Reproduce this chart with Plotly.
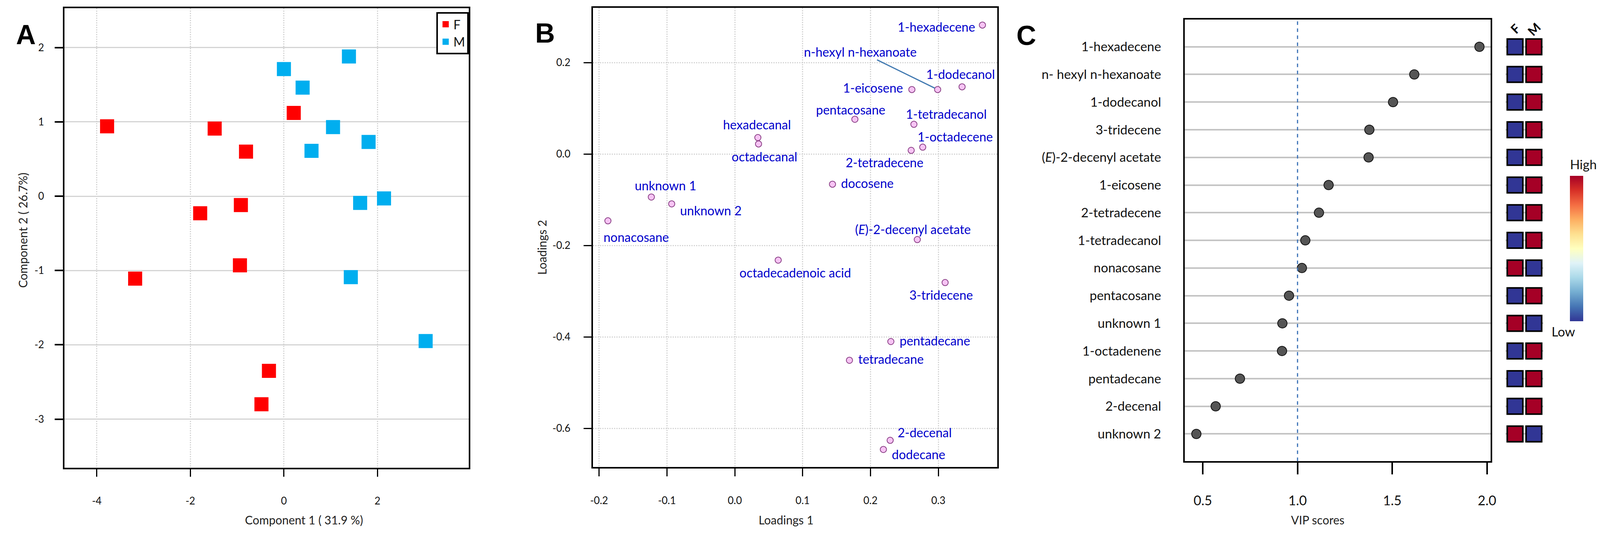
import plotly.graph_objects as go

# ---- panel A: PLS-DA scores ----
f_x = [-3.78, -1.48, -0.81, 0.21, -1.79, -0.92, -3.18, -0.94, -0.32, -0.48]
f_y = [0.94, 0.91, 0.60, 1.12, -0.23, -0.12, -1.11, -0.93, -2.35, -2.80]
m_x = [0.00, 1.39, 0.40, 1.05, 1.81, 0.59, 1.63, 2.14, 1.43, 3.03]
m_y = [1.71, 1.88, 1.46, 0.93, 0.73, 0.61, -0.09, -0.03, -1.09, -1.95]
a_xticks = [-4, -2, 0, 2]
a_yticks = [-3, -2, -1, 0, 1, 2]

# ---- panel B: loadings ----
b_names = ["1-hexadecene", "n-hexyl n-hexanoate", "1-dodecanol", "1-eicosene",
           "pentacosane", "1-tetradecanol", "1-octadecene", "2-tetradecene",
           "hexadecanal", "octadecanal", "docosene", "unknown 1", "unknown 2",
           "nonacosane", "(<i>E</i>)-2-decenyl acetate", "octadecadenoic acid",
           "3-tridecene", "pentadecane", "tetradecane", "2-decenal", "dodecane"]
load1 = [0.365, 0.299, 0.335, 0.261, 0.177, 0.264, 0.277, 0.260, 0.034, 0.035,
         0.144, -0.123, -0.093, -0.187, 0.269, 0.064, 0.310, 0.230, 0.169,
         0.229, 0.219]
load2 = [0.282, 0.141, 0.147, 0.141, 0.076, 0.065, 0.015, 0.008, 0.036, 0.022,
         -0.066, -0.094, -0.109, -0.146, -0.187, -0.232, -0.281, -0.410,
         -0.451, -0.626, -0.646]
b_xticks = [-0.2, -0.1, 0.0, 0.1, 0.2, 0.3]
b_yticks = [-0.6, -0.4, -0.2, 0.0, 0.2]

# ---- panel C: VIP scores + group levels ----
c_names = ["1-hexadecene", "n- hexyl n-hexanoate", "1-dodecanol", "3-tridecene",
           "(<i>E</i>)-2-decenyl acetate", "1-eicosene", "2-tetradecene",
           "1-tetradecanol", "nonacosane", "pentacosane", "unknown 1",
           "1-octadenene", "pentadecane", "2-decenal", "unknown 2"]
vip = [1.96, 1.616, 1.504, 1.379, 1.375, 1.164, 1.113, 1.041, 1.023, 0.955,
       0.92, 0.918, 0.696, 0.568, 0.466]
level_f = [0, 0, 0, 0, 0, 0, 0, 0, 1, 0, 1, 0, 0, 0, 1]
level_m = [1, 1, 1, 1, 1, 1, 1, 1, 0, 1, 0, 1, 1, 1, 0]
c_xticks = [0.5, 1.0, 1.5, 2.0]

# layout measured on a 4667 x 1387 canvas, converted to paper fractions
W, H = 4667, 1387
FONT = "Lato"
LABEL_BLUE = "#0000cc"
B_PX_PER_UNIT = 2001.0   # panel B x scale on the reference canvas


def px_x(p):
    return p / W


def px_y(p):
    return 1 - p / H


def hyphen_labels(vals, fmt):
    # keep a plain hyphen for negatives, like the original figure
    return [fmt.format(v).replace("\u2212", "-") for v in vals]


# label placement for panel B: (xanchor, x offset px, y offset px up)
b_offsets = {
    "1-hexadecene": ("right", -20, -4),
    "1-dodecanol": ("center", -4, 33),
    "1-eicosene": ("right", -24, 5),
    "pentacosane": ("center", -12, 25),
    "1-tetradecanol": ("left", -26, 27),
    "1-octadecene": ("left", -18, 27),
    "2-tetradecene": ("center", -78, -31),
    "hexadecanal": ("center", -2, 34),
    "octadecanal": ("center", 18, -32),
    "docosene": ("left", 23, 3),
    "unknown 1": ("center", 42, 30),
    "unknown 2": ("left", 22, -17),
    "nonacosane": ("left", -15, -41),
    "(<i>E</i>)-2-decenyl acetate": ("center", -13, 27),
    "octadecadenoic acid": ("center", 51, -32),
    "3-tridecene": ("center", -11, -31),
    "pentadecane": ("left", 24, 3),
    "tetradecane": ("left", 23, 3),
    "2-decenal": ("left", 20, 20),
    "dodecane": ("left", 22, -12),
}

rdylbu_r = ["#313695", "#4575b4", "#74add1", "#abd9e9", "#e0f3f8", "#ffffbf",
            "#fee090", "#fdae61", "#f46d43", "#d73027", "#a50026"]
colorscale = [[i / (len(rdylbu_r) - 1), c] for i, c in enumerate(rdylbu_r)]

fig = go.Figure()

fig.add_trace(go.Scatter(x=f_x, y=f_y, mode="markers", name="F",
                         marker=dict(symbol="square", size=36, color="#ff0000"),
                         xaxis="x", yaxis="y"))
fig.add_trace(go.Scatter(x=m_x, y=m_y, mode="markers", name="M",
                         marker=dict(symbol="square", size=36, color="#00aeef"),
                         xaxis="x", yaxis="y"))

fig.add_trace(go.Scatter(x=load1, y=load2, mode="markers", showlegend=False,
                         marker=dict(size=16, color="#f7c4f4",
                                     line=dict(color="#8a3f86", width=2)),
                         xaxis="x2", yaxis="y2"))

fig.add_trace(go.Scatter(x=vip, y=c_names, mode="markers", showlegend=False,
                         marker=dict(size=24, color="#555555",
                                     line=dict(color="#111111", width=2)),
                         xaxis="x3", yaxis="y3"))

fig.add_trace(go.Scatter(
    x=["F"] * len(c_names) + ["M"] * len(c_names),
    y=c_names + c_names,
    mode="markers", showlegend=False,
    marker=dict(symbol="square", size=40, color=level_f + level_m,
                cmin=0, cmax=1, colorscale=colorscale,
                line=dict(color="#000000", width=4),
                showscale=True,
                colorbar=dict(x=px_x(4613), xanchor="left", xpad=0, ypad=0,
                              y=px_y(613), yanchor="middle",
                              len=417, lenmode="pixels", thickness=34,
                              outlinewidth=0, ticks="", showticklabels=False,
                              title=dict(text="High", side="top",
                                         font=dict(size=33, color="#111")))),
    xaxis="x4", yaxis="y3"))

frame = dict(showline=True, linecolor="#000000", linewidth=4, mirror=True,
             zeroline=False, ticks="outside", tickcolor="#000000",
             tickfont=dict(family=FONT, size=26, color="#111111"))

annotations = []
for name, x, y in zip(b_names, load1, load2):
    if name == "n-hexyl n-hexanoate":
        annotations.append(dict(x=x, y=y, xref="x2", yref="y2", text=name,
                                showarrow=True, axref="x2", ax=0.185,
                                ayref="pixel", ay=-97, arrowhead=0,
                                arrowwidth=3, arrowcolor="#3f78b0", standoff=8,
                                font=dict(family=FONT, size=32, color=LABEL_BLUE)))
        continue
    anchor, dx, dy = b_offsets[name]
    annotations.append(dict(x=x + dx / B_PX_PER_UNIT, y=y, xref="x2", yref="y2",
                            text=name, showarrow=False, xanchor=anchor, yshift=dy,
                            font=dict(family=FONT, size=32, color=LABEL_BLUE)))

title_font = dict(family=FONT, size=30, color="#222222")
annotations += [
    dict(x=px_x(703), y=px_y(1358), text="Component 1 ( 31.9 %)", font=title_font),
    dict(x=px_x(27), y=px_y(588), text="Component 2 ( 26.7%)", textangle=-90,
         font=title_font),
    dict(x=px_x(2301), y=px_y(1358), text="Loadings 1", font=title_font),
    dict(x=px_x(1580), y=px_y(632), text="Loadings 2", textangle=-90,
         font=title_font),
    dict(x=px_x(3950), y=px_y(1358), text="VIP scores", font=title_font),
    dict(x=px_x(4630), y=px_y(850), text="Low",
         font=dict(family=FONT, size=33, color="#111111")),
]
for letter, lx, ly in [("A", 28, 40), ("B", 1590, 36), ("C", 3010, 42)]:
    annotations.append(dict(x=px_x(lx), y=px_y(ly), text="<b>%s</b>" % letter,
                            font=dict(family="Liberation Sans", size=70,
                                      color="#000000")))
for col, cy in [("F", 43), ("M", 40)]:
    annotations.append(dict(x=col, y=px_y(cy), xref="x4", yref="paper",
                            text="<b>%s</b>" % col, textangle=-45,
                            font=dict(family=FONT, size=32, color="#000000")))
for a in annotations:
    a.setdefault("xref", "paper")
    a.setdefault("yref", "paper")
    a.setdefault("showarrow", False)

fig.update_layout(
    autosize=True, height=1371,
    margin=dict(l=0, r=0, t=0, b=0),
    paper_bgcolor="white", plot_bgcolor="white",
    font=dict(family=FONT, color="#111111"),
    showlegend=True,
    legend=dict(x=px_x(1365), xanchor="right", y=px_y(23), yanchor="top",
                bordercolor="#000000", borderwidth=4, bgcolor="white",
                itemsizing="trace",
                font=dict(family=FONT, size=32, color="#111111")),
    xaxis=dict(frame, domain=[px_x(173), px_x(1365)], range=[-4.69, 3.95],
               tickvals=a_xticks, ticktext=hyphen_labels(a_xticks, "{:d}"),
               ticklen=19, tickwidth=3, ticklabelstandoff=40,
               showgrid=True, gridcolor="#d4d4d4", gridwidth=3, griddash="dot",
               anchor="y"),
    yaxis=dict(frame, domain=[px_y(1203), px_y(13)], range=[-3.655, 2.53],
               tickvals=a_yticks, ticktext=hyphen_labels(a_yticks, "{:d}"),
               ticklen=21, tickwidth=4, ticklabelstandoff=22,
               showgrid=True, gridcolor="#d4d4d4", gridwidth=3,
               anchor="x"),
    xaxis2=dict(frame, domain=[px_x(1731), px_x(2924)], range=[-0.2093, 0.3869],
                tickvals=b_xticks, ticktext=hyphen_labels(b_xticks, "{:.1f}"),
                ticklen=20, tickwidth=3, ticklabelstandoff=40,
                showgrid=True, gridcolor="#d4d4d4", gridwidth=3, griddash="dot",
                anchor="y2"),
    yaxis2=dict(frame, domain=[px_y(1201), px_y(12.5)], range=[-0.6844, 0.3194],
                tickvals=b_yticks, ticktext=hyphen_labels(b_yticks, "{:.1f}"),
                ticklen=20, tickwidth=3, ticklabelstandoff=28,
                showgrid=True, gridcolor="#d4d4d4", gridwidth=3, griddash="dot",
                anchor="x2"),
    xaxis3=dict(frame, domain=[px_x(3477), px_x(4379)], range=[0.405, 2.019],
                tickvals=c_xticks, ticktext=hyphen_labels(c_xticks, "{:.1f}"),
                ticklen=30, tickwidth=4, ticklabelstandoff=38,
                tickfont=dict(family=FONT, size=34, color="#111111"),
                showgrid=False, anchor="y3"),
    yaxis3=dict(frame, domain=[px_y(1185.5), px_y(42.5)], type="category",
                categoryorder="array", categoryarray=c_names,
                range=[14.98, -0.985], ticks="", ticklabelstandoff=50,
                tickfont=dict(family=FONT, size=33, color="#111111"),
                showgrid=True, gridcolor="#c4c4c4", gridwidth=4,
                anchor="x3"),
    xaxis4=dict(domain=[px_x(4423.25), px_x(4534.25)], type="category",
                categoryorder="array", categoryarray=["F", "M"],
                range=[-0.5, 1.5], showgrid=False, zeroline=False,
                showline=False, showticklabels=False, ticks="", anchor="y3"),
    shapes=[dict(type="line", xref="x3", yref="y3 domain", x0=1.0, x1=1.0,
                 y0=0, y1=1, line=dict(color="#3f74b8", width=3, dash="dash"))],
    annotations=annotations,
)

fig.write_html("out.html")
